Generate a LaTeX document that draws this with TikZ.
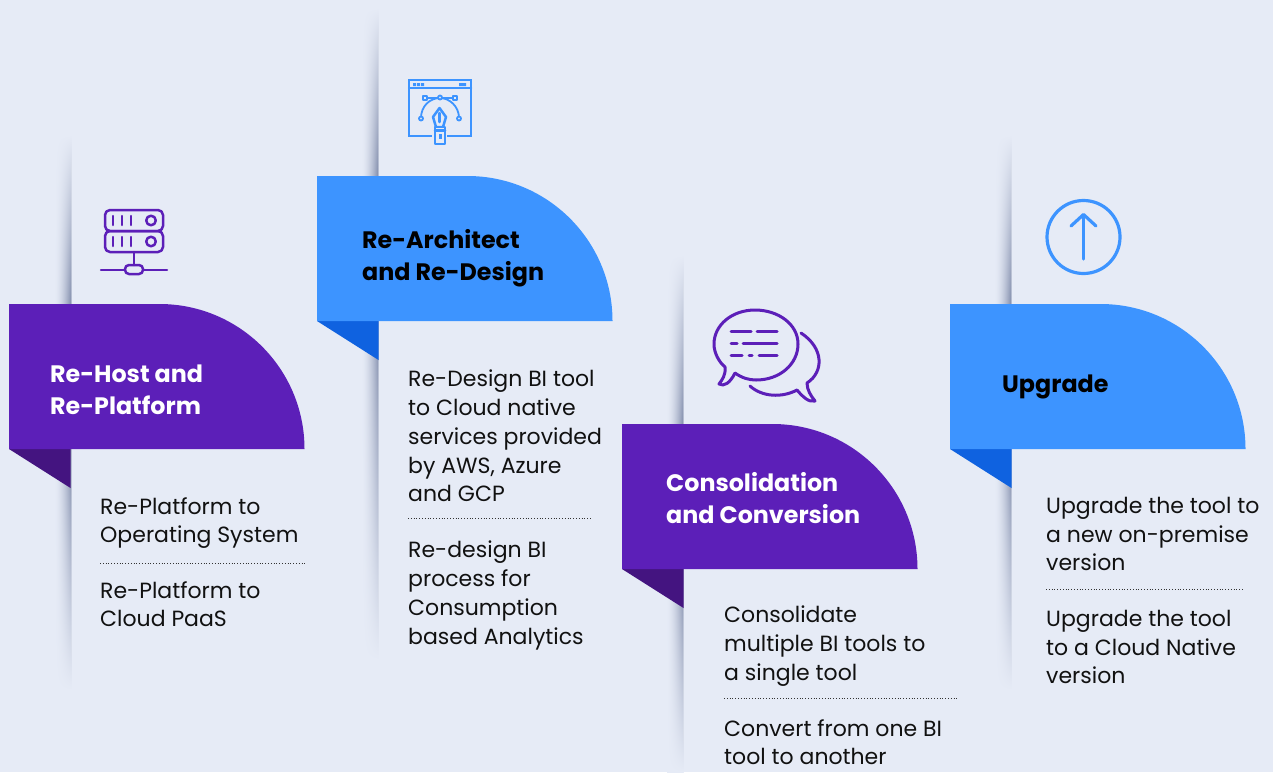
\documentclass[tikz,border=0pt]{standalone}
\usepackage{fontspec}
\setmainfont{Poppins}
\usetikzlibrary{calc}
\definecolor{bgc}{HTML}{E6EBF6}
\definecolor{purp}{HTML}{5C1FB8}
\definecolor{purpd}{HTML}{441480}
\definecolor{blu}{HTML}{3D94FF}
\definecolor{blud}{HTML}{0F62E0}
\definecolor{txt}{HTML}{111111}
\definecolor{shd}{HTML}{8A95B2}
\tikzset{
 x=1pt,y=-1pt,
 titlew/.style={font=\fontsize{23.8}{32}\selectfont\bfseries,color=white,align=left,anchor=north west,inner sep=0pt},
 titlek/.style={titlew,color=black},
 body/.style={font=\fontsize{22}{28.7}\selectfont,color=txt,align=left,anchor=north west,inner sep=0pt},
 sep/.style={dotted,line width=0.8pt,color=black!80},
 iconp/.style={draw=purp,line width=2.5pt,line cap=round,line join=round},
 iconb/.style={draw=blu,line width=2.5pt,line cap=round,line join=round},
}
\newcommand{\shadeup}[3]{%
  \foreach \i in {0,...,15}{%
    \pgfmathsetmacro{\k}{100*((\i+1)/16)^1.7}%
    \colorlet{cA}{shd!\k!bgc}%
    \colorlet{cM}{cA!28!bgc}%
    \fill[top color=bgc,middle color=cM,bottom color=cA,draw=none] (#1-16+\i,#2) rectangle (#1,#3);
  }}
\newcommand{\shadedown}[3]{%
  \foreach \i in {0,...,15}{%
    \pgfmathsetmacro{\k}{100*((\i+1)/16)^1.7}%
    \colorlet{cA}{shd!\k!bgc}%
    \colorlet{cM}{cA!28!bgc}%
    \fill[top color=cA,middle color=cM,bottom color=bgc,draw=none] (#1-16+\i,#2) rectangle (#1,#3);
  }}
\newcommand{\ribbon}[4]{% x,y,main,dark
  \fill[#4] (#1,#2+145) -- (#1+61.5,#2+145) -- (#1+61.5,#2+184) -- cycle;
  \fill[#3] (#1,#2) -- (#1+150.5,#2) arc[start angle=-90,end angle=0,radius=145] -- (#1,#2+145) -- cycle;}
\begin{document}
\begin{tikzpicture}
\useasboundingbox (0,0) rectangle (1273,772);
\fill[bgc] (0,0) rectangle (1273,772);
\shadeup{71}{135}{304}
\shadedown{71}{449}{690}
\shadeup{378}{8}{176}
\shadedown{378}{321}{660}
\shadeup{683}{255}{424}
\shadedown{683}{569}{772}
\shadeup{1011}{135}{304}
\shadedown{1011}{449}{690}
\ribbon{9}{304}{purp}{purpd}
\ribbon{317}{176}{blu}{blud}
\ribbon{622}{424}{purp}{purpd}
\ribbon{950}{304}{blu}{blud}
% titles
\node[titlew] (t1) at (50,364.5) {Re-Host and\\Re-Platform};
\node[titlek] (t2) at (362,229) {Re-Architect\\and Re-Design};
\node[titlew] (t3) at (666,472) {Consolidation\\and Conversion};
\node[titlek] (t4) at (1002,374.5) {Upgrade};
% bodies
\node[body] (b1a) at (100,497) {Re-Platform to\\Operating System};
\node[body] (b1b) at (100,581) {Re-Platform to\\Cloud PaaS};
\node[body] (b2a) at (408,370) {Re-Design BI tool\\to Cloud native\\services provided\\by AWS, Azure\\and GCP};
\node[body] (b2b) at (408,541) {Re-design BI\\process for\\Consumption\\based Analytics};
\node[body] (b3a) at (724,606) {Consolidate\\multiple BI tools to\\a single tool};
\node[body] (b3b) at (724,719) {Convert from one BI\\tool to another};
\node[body] (b4a) at (1046,497) {Upgrade the tool to\\a new on-premise\\version};
\node[body] (b4b) at (1046,610) {Upgrade the tool\\to a Cloud Native\\version};
% separators
\coordinate (s1a) at (100,563); \coordinate (s1b) at (305,563);
\coordinate (s2a) at (408,518); \coordinate (s2b) at (592,518);
\coordinate (s3a) at (724,698); \coordinate (s3b) at (958,698);
\coordinate (s4a) at (1046,589); \coordinate (s4b) at (1243,589);
\draw[sep] (s1a)--(s1b); \draw[sep] (s2a)--(s2b); \draw[sep] (s3a)--(s3b); \draw[sep] (s4a)--(s4b);
% server icon
\begin{scope}[iconp]
\draw[rounded corners=5pt] (105,210) rectangle (163,231);
\draw[rounded corners=5pt] (105,231) rectangle (163,252);
\foreach \x in {113,122,131}{\draw (\x,216)--(\x,225); \draw (\x,237)--(\x,246);}
\draw (151,220.5) circle[radius=4.8]; \draw (151,241.5) circle[radius=4.8];
\draw (134,252)--(134,265);
\draw (101,270)--(125,270); \draw (143,270)--(167,270);
\draw[rounded corners=4pt] (125,265) rectangle (143,274);
\end{scope}
% window pen icon
\begin{scope}[iconb]
\draw[line cap=butt,line join=miter] (409,80) rectangle (471,136);
\draw (409,88) -- (471,88);
\fill[blu,draw=none] (413,83) rectangle (416,86) (417,83) rectangle (420,86) (421,83) rectangle (424,86) (459,83) rectangle (466,86);
\draw[line width=1.8pt] (423,98) -- (457,98);
\draw[line width=1.8pt] (421,118) .. controls (421,106) and (430,98) .. (440,98) .. controls (449,98) and (459,106) .. (459,118);
\draw[line width=1.8pt,fill=bgc] (423,96) rectangle ++(4,4);
\draw[line width=1.8pt,fill=bgc] (453,96) rectangle ++(4,4);
\draw[line width=1.8pt,fill=bgc] (440,97.5) circle[radius=2];
\draw[line width=1.8pt,fill=bgc] (421,118.5) circle[radius=2];
\draw[line width=1.8pt,fill=bgc] (459,118.5) circle[radius=2];
\draw[fill=bgc] (439.5,108) -- (446,117) -- (443,127) -- (436,127) -- (433,117) -- cycle;
\draw (439.5,113)--(439.5,122);
\fill[bgc,draw=none] (432,134) rectangle (447,140);
\draw[fill=bgc] (435,127) rectangle (445,144);
\draw (435,130.5)--(445,130.5);
\fill[blu,draw=none] (438.5,134) rectangle (441.5,139);
\end{scope}
% chat icon
\begin{scope}[iconp,line width=3pt]
\draw (735,373) .. controls (742,378) and (749,380) .. (756,380)
  .. controls (780,380) and (798,364) .. (798,344)
  .. controls (798,324) and (778,310) .. (755,310)
  .. controls (732,310) and (714,325) .. (714,344)
  .. controls (714,353) and (719,362) .. (725,367)
  .. controls (726,375) and (722,380) .. (719,384)
  .. controls (724,387) and (730,383) .. (735,373);
\draw (731,331)--(751,331); \draw (757,331)--(777,331);
\draw (731,343)--(737,343); \draw (743,343)--(777,343);
\draw (731,355)--(742,355); \draw (749,355)--(752,355); \draw (759,355)--(777,355);
\draw (801,333) .. controls (824,348) and (824,372) .. (807,383)
  .. controls (807,390) and (811,396) .. (815,401)
  .. controls (809,403) and (802,396) .. (797,390)
  .. controls (782,398) and (762,397) .. (750,386);
\end{scope}
% upload icon
\begin{scope}[iconb,line width=3.2pt]
\draw (1083.5,237) circle[radius=36.5];
\draw (1083.5,259)--(1083.5,216);
\draw (1071,226)--(1083.5,214.5)--(1096,226);
\end{scope}
\end{tikzpicture}
\end{document}
